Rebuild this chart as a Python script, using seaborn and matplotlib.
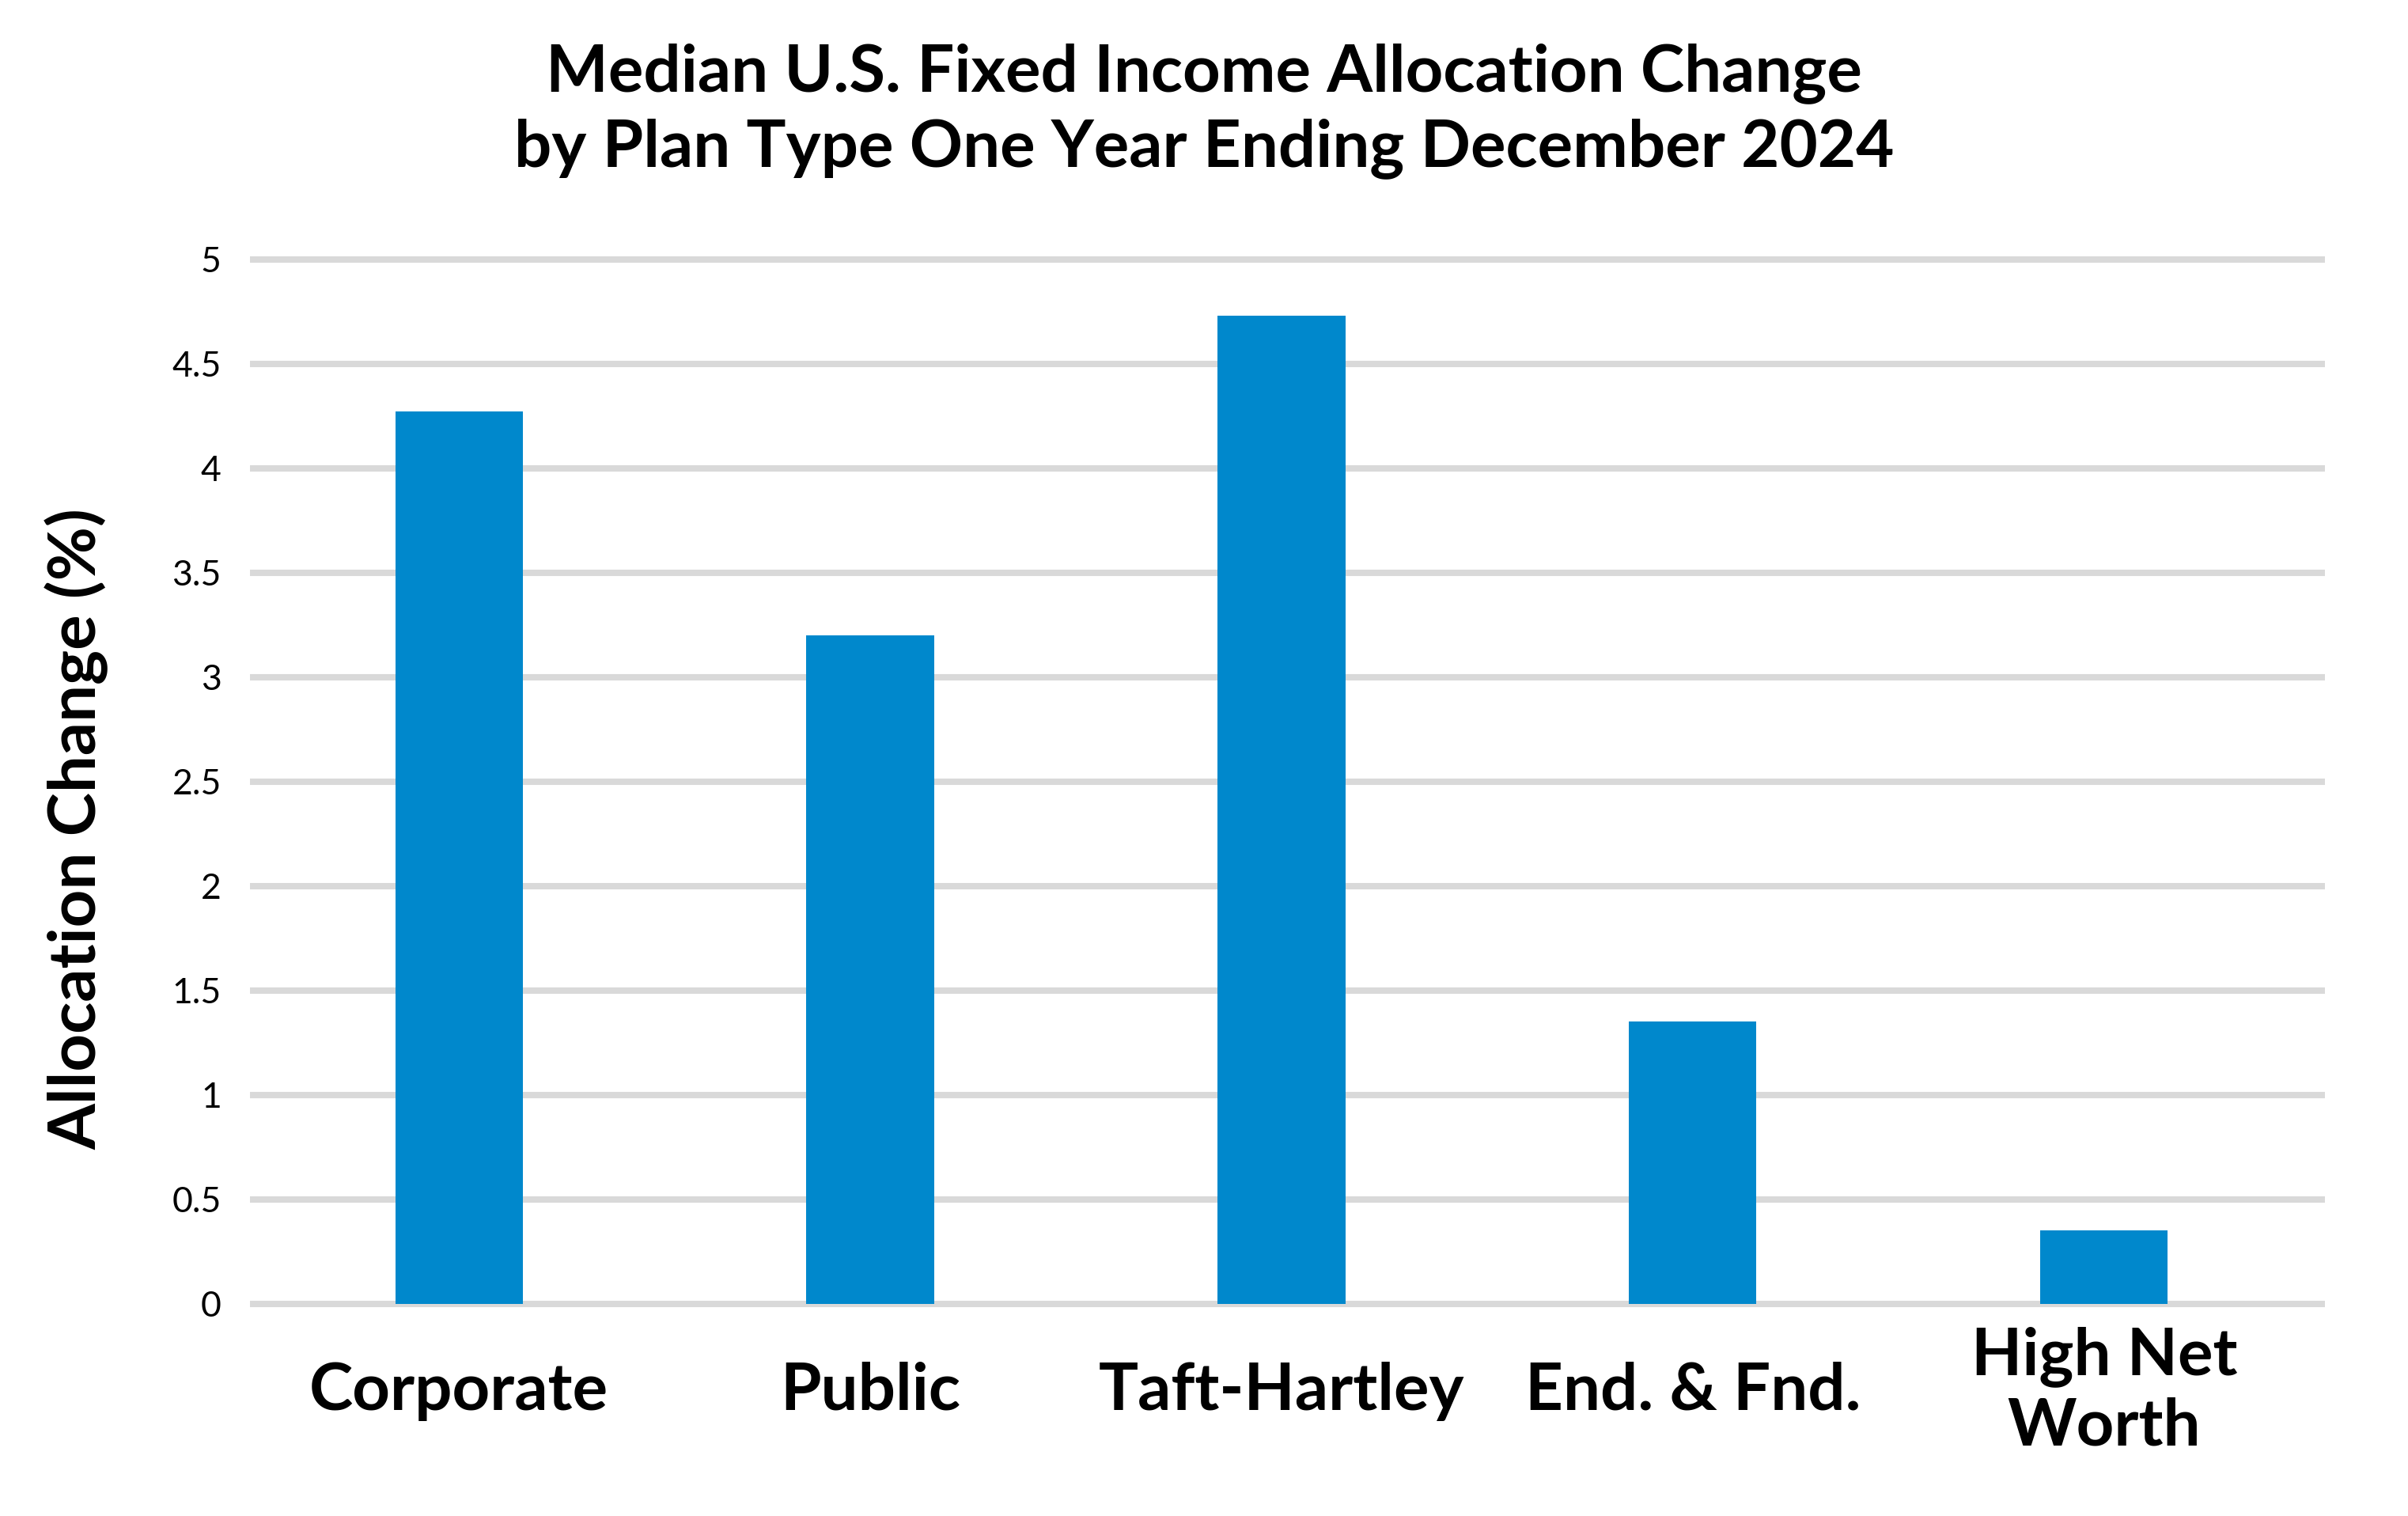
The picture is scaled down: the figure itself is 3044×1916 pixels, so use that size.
import seaborn as sns
import matplotlib.pyplot as plt


plan_types = ['Corporate', 'Public', 'Taft-Hartley', 'End. & Fnd.', 'High Net\nWorth']
allocation_change = [4.27, 3.20, 4.73, 1.35, 0.35]
y_ticks = [0, 0.5, 1, 1.5, 2, 2.5, 3, 3.5, 4, 4.5, 5]
y_tick_labels = ['0', '0.5', '1', '1.5', '2', '2.5', '3', '3.5', '4', '4.5', '5']

title = 'Median U.S. Fixed Income Allocation Change\nby Plan Type One Year Ending December 2024'

color = '#0088cc'
grid_color = '#d9d9d9'


sns.set_style('white')
plt.rcParams['font.family'] = ['Lato', 'DejaVu Sans']
plt.rcParams['text.color'] = 'black'
plt.rcParams['xtick.color'] = 'black'
plt.rcParams['ytick.color'] = 'black'
plt.rcParams['axes.labelcolor'] = 'black'

fig = plt.figure(figsize=(15.22, 9.58), dpi=200)
ax = fig.add_axes([0.1038, 0.1359, 0.9655 - 0.1038, 0.6972])

sns.barplot(x=plan_types, y=allocation_change, color=color, saturation=1,
            width=0.31, linewidth=0, ax=ax)

ax.set_xlim(-0.508, 4.537)
ax.set_ylim(-0.03, 5.03)
ax.set_yticks(y_ticks)
ax.set_yticklabels(y_tick_labels, fontsize=16, fontweight='normal', color='black')

ax.set_axisbelow(True)
ax.yaxis.grid(True, color=grid_color, linewidth=2.9)
ax.xaxis.grid(False)
sns.despine(ax=ax, left=True, bottom=True)

ax.tick_params(axis='y', length=0, pad=13)
ax.tick_params(axis='x', length=0, pad=37)
for label in ax.get_xticklabels():
    label.set_fontsize(30)
    label.set_fontweight('bold')
    label.set_color('black')
    label.set_verticalalignment('center')
    label.set_linespacing(1.2)

ax.set_xlabel('')
ax.set_ylabel('Allocation Change (%)', fontsize=30, fontweight='bold')
ax.yaxis.set_label_coords(-0.0835, 0.455)
ax.yaxis.label.set_verticalalignment('center')

fig.suptitle(title, x=0.5, y=0.927, va='center', fontsize=30, fontweight='bold', linespacing=1.3)

plt.savefig('out.png', dpi=200)
